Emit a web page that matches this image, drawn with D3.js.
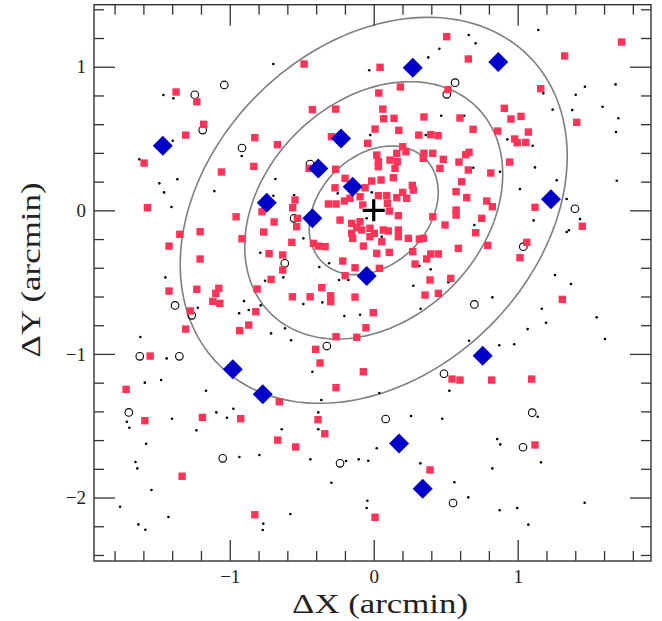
<!DOCTYPE html>
<html>

<head>
    <meta charset="utf-8">
    <style>
        body {
            margin: 0;
            background: #fff;
        }

        svg {
            display: block;
        }

        .axis .domain {
            display: none;
        }

        .axis .tick line {
            stroke: #333;
            stroke-width: 1.3;
        }

        .axis .tick text {
            font-family: 'Liberation Serif', 'DejaVu Serif', serif;
            font-size: 19px;
            fill: #222;
        }

        .axis-label {
            font-family: 'Liberation Serif', 'DejaVu Serif', serif;
            font-size: 27px;
            fill: #222;
        }
    </style>
</head>

<body>
    <svg width="662" height="621"></svg>
</body>

<script src="https://d3js.org/d3.v7.min.js"></script>

<script>
    // red squares (members)
    let redSquares = [
        [-1.373, 0.824], [-1.229, 0.756], [-1.181, 0.599], [-1.306, 0.524], [-0.826, 0.506], [-0.669, 0.457],
        [-1.595, 0.329], [-0.833, 0.306], [-1.058, 0.267],
        [0.507, 1.209], [-0.484, 1.019], [0.044, 0.996], [0.657, 1.054], [0.185, 0.859], [0.516, 0.840],
        [0.035, 0.817], [-0.426, 0.701], [-0.264, 0.705], [0.063, 0.705], [0.069, 0.638], [0.141, 0.641],
        [0.349, 0.650], [0.599, 0.643], [0.009, 0.566], [0.174, 0.557], [0.313, 0.524], [0.396, 0.527],
        [0.447, 0.520], [-0.294, 0.513], [-0.042, 0.467], [0.201, 0.443], [0.224, 0.408], [0.021, 0.385],
        [0.160, 0.397], [0.349, 0.397], [0.410, 0.397], [0.639, 0.387], [0.344, 0.362], [0.483, 0.355],
        [0.032, 0.339], [0.113, 0.350], [0.164, 0.339], [0.592, 0.336], [0.032, 0.304], [0.148, 0.292],
        [0.460, 0.292], [0.657, 0.281], [-0.264, 0.286], [-0.449, 0.292], [0.136, 0.227], [-0.014, 0.204],
        [0.051, 0.211], [0.611, 0.199], [-0.199, 0.223], [0.268, 0.174], [-0.269, 0.157], [-0.060, 0.157],
        [1.722, 1.172], [1.326, 1.075], [1.160, 0.847], [0.907, 0.710], [0.953, 0.636], [1.023, 0.654],
        [1.410, 0.613], [0.690, 0.564], [0.861, 0.552], [1.074, 0.545], [0.979, 0.497], [0.997, 0.471],
        [1.056, 0.473], [0.662, 0.404], [0.944, 0.336], [0.813, 0.260],
        [-1.572, 0.018], [-0.956, -0.045], [-0.776, -0.010], [-0.692, -0.081], [-1.347, -0.167], [-1.206, -0.149],
        [-0.915, -0.198], [-0.764, -0.151], [-1.422, -0.249], [-0.727, -0.302], [-1.206, -0.339], [-0.713, -0.481],
        [-1.422, -0.562], [-1.229, -0.550], [-1.076, -0.543], [-1.097, -0.578], [-0.810, -0.548], [-1.118, -0.634],
        [-1.069, -0.648], [-1.274, -0.701], [-0.819, -0.706], [-0.868, -0.799], [-0.931, -0.838], [-1.306, -0.827],
        [-1.553, -1.015],
        [-0.547, 0.072], [-0.563, 0.018], [-0.530, -0.056], [-0.535, -0.114], [-0.315, 0.044], [-0.262, 0.044],
        [-0.204, 0.065], [-0.165, 0.084], [-0.095, 0.095], [-0.076, 0.037], [0.032, 0.102], [0.090, 0.102],
        [0.095, 0.049], [0.160, 0.088], [0.201, 0.125], [0.229, 0.084], [0.275, 0.141], [0.108, -0.005],
        [0.171, -0.037], [-0.234, -0.068], [-0.153, -0.091], [-0.095, -0.079], [-0.118, -0.121], [-0.083, -0.137],
        [-0.153, -0.160], [-0.026, -0.125], [-0.026, -0.184], [0.004, -0.160], [0.067, -0.137], [0.101, -0.144],
        [0.171, -0.137], [0.171, -0.184], [-0.146, -0.195], [-0.072, -0.249], [0.056, -0.219], [0.240, -0.195],
        [0.317, -0.200], [0.344, -0.195], [0.410, -0.045], [0.495, -0.102], [0.572, 0.002], [0.572, -0.033],
        [0.572, 0.130], [0.646, 0.088], [0.588, -0.265], [-0.419, -0.230], [-0.385, -0.249], [-0.338, -0.253],
        [-0.569, -0.223], [-0.632, -0.311], [-0.632, -0.416], [0.021, -0.300], [0.108, -0.293], [0.271, -0.288],
        [0.368, -0.339], [0.396, -0.304], [0.449, -0.304], [0.287, -0.374], [-0.215, -0.353], [-0.130, -0.400],
        [0.039, -0.404], [-0.199, -0.455], [0.391, -0.485], [0.535, -0.474], [-0.361, -0.539], [-0.565, -0.602],
        [-0.442, -0.602], [-0.299, -0.595], [-0.299, -0.636], [-0.130, -0.604], [0.356, -0.590], [0.449, -0.578],
        [-0.003, -0.713], [-0.054, -0.818], [-0.262, -0.880], [-0.118, -0.884], [-0.403, -0.968], [-0.373, -1.063],
        [-0.072, -1.124],
        [0.785, 0.065], [0.824, 0.025], [0.750, -0.056], [0.708, -0.156], [0.792, -0.244], [1.120, 0.021],
        [1.449, -0.111], [1.063, -0.223], [1.016, -0.330], [1.310, -0.620],
        [-1.720, -1.247], [-1.590, -1.465], [-1.190, -1.442], [-0.924, -1.451], [-0.667, -1.600], [-0.656, -1.333],
        [-1.331, -1.852], [-0.826, -2.120],
        [-0.262, -1.235], [-0.387, -1.458], [-0.340, -1.556], [-0.542, -1.648], [0.544, -1.175], [0.599, -1.182],
        [0.391, -1.808], [0.009, -2.138],
        [0.819, -1.182], [1.097, -1.175], [1.120, -1.634]
    ]

    // blue diamonds
    let blueDiamonds = [
        [-1.465, 0.450], [0.271, 0.993], [-0.227, 0.501], [-0.385, 0.292], [-0.146, 0.165], [0.865, 1.033],
        [-0.743, 0.053], [-0.979, -1.107], [-0.426, -0.056], [-0.049, -0.458], [1.231, 0.077], [0.757, -1.013],
        [-0.771, -1.281], [0.176, -1.623], [0.340, -1.939]
    ]

    // open circles
    let openCircles = [
        [-1.038, 0.873], [-1.243, 0.805], [-1.188, 0.559], [-0.915, 0.434], [0.565, 0.889], [0.507, 0.808],
        [-0.442, 0.322], [-1.380, -0.662], [-1.264, -0.731], [-1.625, -1.017], [-1.350, -1.017], [-0.553, -0.056],
        [-0.618, -0.369], [-0.326, -0.945], [0.488, -1.138], [1.398, 0.011], [1.039, -0.253], [0.699, -0.655],
        [-1.701, -1.407], [-1.049, -1.727], [0.083, -1.453], [-0.234, -1.762], [0.551, -2.038], [1.101, -1.409],
        [1.037, -1.650]
    ]

    // small black dots
    let blackDots = [
        [-0.697, 1.019], [-1.461, 0.803], [-1.392, 0.780], [-1.396, 0.485], [-0.917, 0.378], [-1.628, 0.355],
        [-1.489, 0.188], [-1.364, 0.216], [-0.683, 0.218],
        [0.660, 1.221], [0.456, 1.125], [0.379, 1.065], [-0.031, 0.975], [0.469, 0.659], [0.629, 0.659],
        [-0.024, 0.524], [0.361, 0.524],
        [0.708, 1.163], [1.143, 1.256], [1.178, 0.815], [1.467, 0.861], [1.680, 0.877], [1.403, 0.805],
        [1.243, 0.701], [1.379, 0.698], [1.590, 0.721], [1.699, 0.641], [1.683, 0.545], [0.928, 0.494],
        [1.104, 0.450], [1.120, 0.299], [0.692, 0.297], [0.877, 0.269], [1.271, 0.209], [1.688, 0.206],
        [1.016, 0.148],
        [-1.456, 0.125], [-1.107, 0.134], [-1.405, 0.023], [-0.697, 0.102], [-0.788, -0.295], [-0.755, -0.490],
        [-1.447, -0.467], [-1.222, -0.678], [-0.901, -0.632], [-0.785, -0.662], [-0.935, -0.717], [-0.868, -0.694],
        [-0.713, -0.857], [-1.621, -0.882], [-1.438, -1.031],
        [-0.553, 0.107], [-0.250, 0.118], [-0.014, 0.125], [-0.049, -0.056], [0.056, -0.184], [-0.489, -0.195],
        [-0.310, -0.369], [-0.378, -0.395], [-0.628, -0.467], [-0.241, -0.485], [-0.176, -0.485], [0.317, -0.388],
        [0.396, -0.411], [0.275, -0.525], [0.518, -0.501], [0.641, 0.107], [-0.489, -0.653], [-0.357, -0.641],
        [-0.204, -0.736], [-0.095, -0.727], [0.326, -0.685], [-0.616, -0.822], [-0.574, -0.905], [0.662, -0.908],
        [-0.426, -1.124],
        [1.340, 0.079], [1.433, -0.061], [1.111, -0.070], [1.340, -0.151], [1.356, -0.139], [0.699, -0.102],
        [1.259, -0.451], [1.370, -0.513], [0.824, -0.606], [1.167, -0.685], [1.197, -0.783], [1.069, -0.827],
        [1.549, -0.745], [1.606, -0.896], [0.872, -0.940], [0.976, -0.933],
        [-1.590, -1.200], [-1.477, -1.182], [-1.165, -1.256], [-1.093, -1.407], [-0.975, -1.382], [-1.019, -1.444],
        [-1.401, -1.451], [-1.232, -1.532], [-1.715, -1.472], [-1.697, -1.514], [-1.581, -1.625], [-0.933, -1.718],
        [-0.794, -1.704], [-1.655, -1.753], [-1.642, -1.797], [-1.544, -1.948], [-1.762, -2.064], [-1.426, -2.136],
        [-1.635, -2.187], [-1.586, -2.224], [-0.767, -2.182], [-0.771, -2.226],
        [0.039, -1.272], [-0.364, -1.321], [-0.385, -1.407], [0.525, -1.256], [0.259, -1.432], [0.476, -1.451],
        [-0.639, -1.525], [-0.385, -1.525], [0.021, -1.657], [-0.440, -1.734], [-0.192, -1.746], [-0.104, -1.734],
        [-0.038, -1.744], [0.324, -1.762], [-0.294, -1.897], [0.560, -1.894], [0.657, -1.999], [-0.044, -2.022],
        [-0.049, -2.073], [-0.579, -2.115],
        [1.139, -1.437], [0.858, -1.593], [0.879, -1.630], [1.162, -1.755], [0.824, -1.797], [1.465, -2.036],
        [0.875, -2.089], [0.997, -2.073], [1.074, -2.189]
    ]

    // ellipses: semi-axes (arcmin) of the inner one, position angle, multiples
    let ellipseA = 0.507
    let ellipseB = 0.38
    let ellipseAngle = 45
    let ellipseScales = [1, 2, 3]
    let center = [0, 0]

    let xMajorTicks = [-1, 0, 1]
    let xMinorTicks = [-1.8, -1.6, -1.4, -1.2, -0.8, -0.6, -0.4, -0.2, 0.2, 0.4, 0.6, 0.8, 1.2, 1.4, 1.6, 1.8]
    let yMajorTicks = [-2, -1, 0, 1]
    let yMinorTicks = [-2.4, -2.2, -1.8, -1.6, -1.4, -1.2, -0.8, -0.6, -0.4, -0.2, 0.2, 0.4, 0.6, 0.8, 1.2, 1.4]

    let svg = d3.select("svg")

    let margin = { top: 4.7, right: 11, bottom: 60, left: 94 };
    let width = 662
    let height = 621

    let x = d3.scaleLinear()
        .domain([-1.943, 1.926])
        .range([margin.left, width - margin.right])

    let y = d3.scaleLinear()
        .domain([-2.442, 1.432])
        .range([height - margin.bottom, margin.top])

    // ellipses
    let ellipseLine = d3.line()
        .x(d => x(d[0]))
        .y(d => y(d[1]))
        .curve(d3.curveLinearClosed)

    let th = ellipseAngle * Math.PI / 180
    let ellipseG = svg.append("g").attr("class", "ellipses")
    ellipseScales.forEach(k => {
        let pts = d3.range(0, 360, 2).map(deg => {
            let t = deg * Math.PI / 180
            let u = k * ellipseA * Math.cos(t)
            let v = k * ellipseB * Math.sin(t)
            return [center[0] + u * Math.cos(th) - v * Math.sin(th),
                    center[1] + u * Math.sin(th) + v * Math.cos(th)]
        })
        ellipseG.append("path")
            .attr("d", ellipseLine(pts))
            .attr("fill", "none")
            .attr("stroke", "#7f7f7f")
            .attr("stroke-width", 1.6)
    })

    // points
    svg.append("g")
        .selectAll("circle")
        .data(blackDots)
        .join("circle")
        .attr("cx", d => x(d[0]))
        .attr("cy", d => y(d[1]))
        .attr("r", 1.3)
        .attr("fill", "#000")

    svg.append("g")
        .selectAll("circle")
        .data(openCircles)
        .join("circle")
        .attr("cx", d => x(d[0]))
        .attr("cy", d => y(d[1]))
        .attr("r", 3.8)
        .attr("fill", "none")
        .attr("stroke", "#000")
        .attr("stroke-width", 1.1)

    let sq = 7.4
    svg.append("g")
        .selectAll("rect")
        .data(redSquares)
        .join("rect")
        .attr("x", d => x(d[0]) - sq / 2)
        .attr("y", d => y(d[1]) - sq / 2)
        .attr("width", sq)
        .attr("height", sq)
        .attr("fill", "#fd3358")

    let dm = 10
    svg.append("g")
        .selectAll("path")
        .data(blueDiamonds)
        .join("path")
        .attr("d", d => {
            let cx = x(d[0]), cy = y(d[1])
            return `M${cx},${cy - dm}L${cx + dm},${cy}L${cx},${cy + dm}L${cx - dm},${cy}Z`
        })
        .attr("fill", "#0000c8")

    // centre cross
    let cr = 11
    let cx0 = x(center[0]), cy0 = y(center[1])
    let crossPath = `M${cx0 - cr},${cy0}H${cx0 + cr}M${cx0},${cy0 - cr}V${cy0 + cr}`
    svg.append("path")
        .attr("d", crossPath)
        .attr("stroke", "#fff")
        .attr("stroke-width", 5.5)
    svg.append("path")
        .attr("d", crossPath)
        .attr("stroke", "#000")
        .attr("stroke-width", 3.2)

    // frame and ticks (inward on all sides)
    let x0 = margin.left, x1 = width - margin.right
    let y0 = height - margin.bottom, y1 = margin.top

    let addAxis = (axis, transform) => {
        svg.append("g")
            .attr("class", "axis")
            .attr("transform", transform)
            .call(axis)
    }

    addAxis(d3.axisBottom(x).tickValues(xMinorTicks).tickSize(-10).tickFormat(""), `translate(0,${y0})`)
    addAxis(d3.axisBottom(x).tickValues(xMajorTicks).tickSize(-21).tickPadding(9).tickFormat(d3.format("d")), `translate(0,${y0})`)
    addAxis(d3.axisTop(x).tickValues(xMinorTicks).tickSize(-10).tickFormat(""), `translate(0,${y1})`)
    addAxis(d3.axisTop(x).tickValues(xMajorTicks).tickSize(-21).tickFormat(""), `translate(0,${y1})`)
    addAxis(d3.axisLeft(y).tickValues(yMinorTicks).tickSize(-10).tickFormat(""), `translate(${x0},0)`)
    addAxis(d3.axisLeft(y).tickValues(yMajorTicks).tickSize(-21).tickPadding(8).tickFormat(d3.format("d")), `translate(${x0},0)`)
    addAxis(d3.axisRight(y).tickValues(yMinorTicks).tickSize(-10).tickFormat(""), `translate(${x1},0)`)
    addAxis(d3.axisRight(y).tickValues(yMajorTicks).tickSize(-21).tickFormat(""), `translate(${x1},0)`)

    svg.append("rect")
        .attr("x", x0)
        .attr("y", y1)
        .attr("width", x1 - x0)
        .attr("height", y0 - y1)
        .attr("fill", "none")
        .attr("stroke", "#333")
        .attr("stroke-width", 1.4)

    // axis titles
    svg.append("text")
        .attr("class", "axis-label")
        .attr("x", 380)
        .attr("y", 613)
        .attr("text-anchor", "middle")
        .attr("textLength", 176)
        .attr("lengthAdjust", "spacingAndGlyphs")
        .text("ΔX (arcmin)")

    svg.append("text")
        .attr("class", "axis-label")
        .attr("transform", "translate(40,270) rotate(-90)")
        .attr("text-anchor", "middle")
        .attr("textLength", 175)
        .attr("lengthAdjust", "spacingAndGlyphs")
        .text("ΔY (arcmin)")
</script>

</html>
